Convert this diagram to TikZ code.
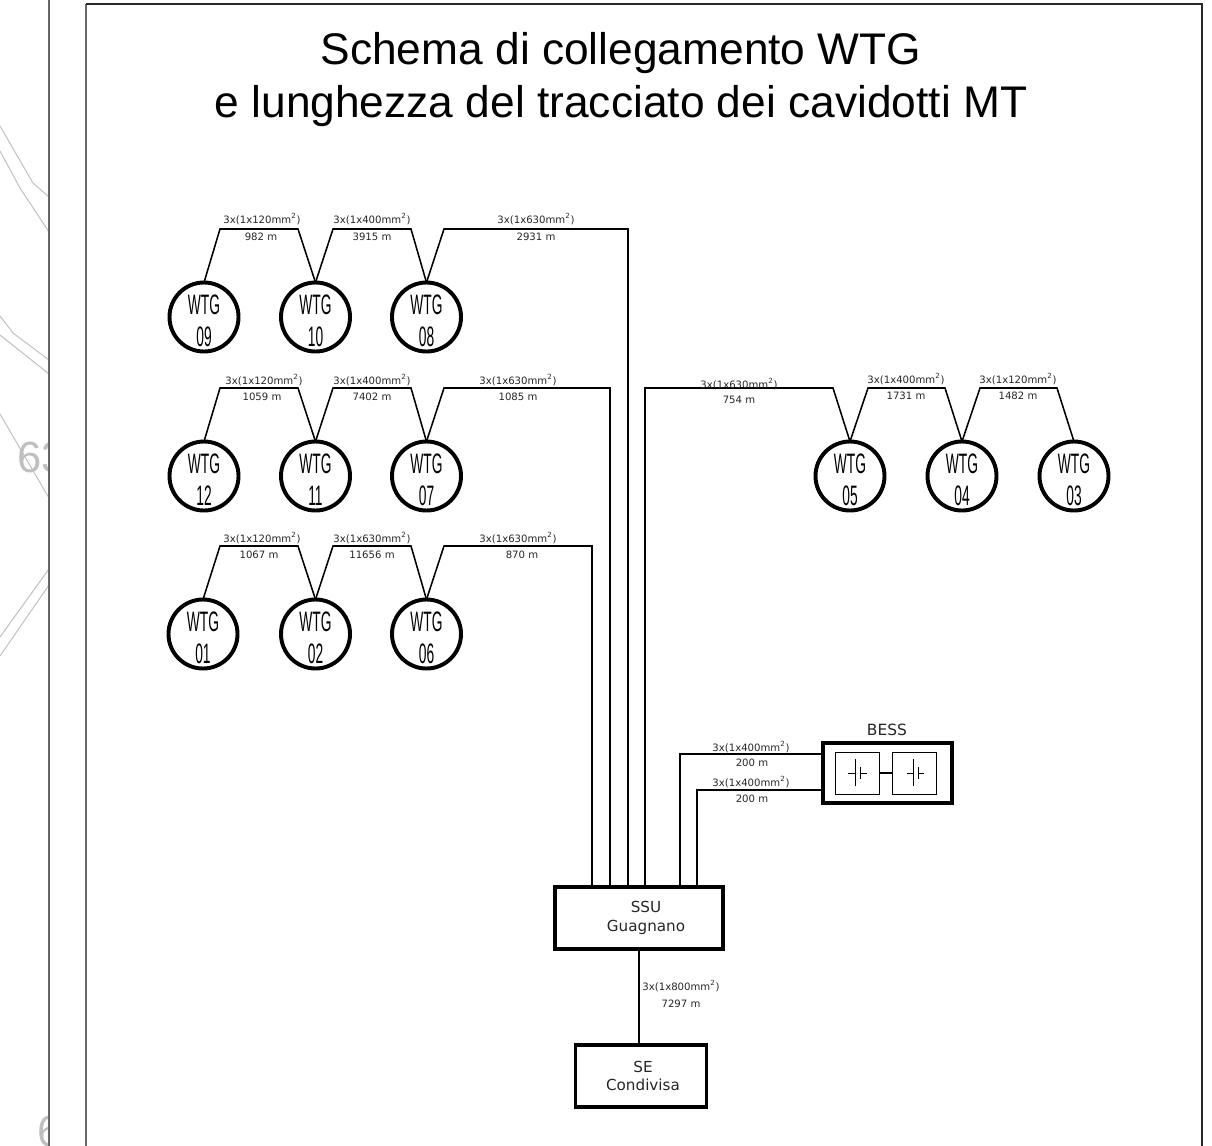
\documentclass[tikz,border=0pt]{standalone}
\usepackage{fontspec}
\usepackage{graphicx}
\setmainfont{Liberation Sans}
\newfontfamily\lblfont{DejaVu Sans}
\usetikzlibrary{positioning}
\newcommand{\wtgtext}[1]{\raisebox{-10pt}[0pt][0pt]{\scalebox{0.49}[1]{\begin{tabular}{@{}c@{}}WTG\\#1\end{tabular}}}}
\begin{document}
\begin{tikzpicture}[x=0.025cm, y=-0.025cm,
  wire/.style={black, line width=1.1pt, line join=miter},
  wtg/.style={circle, draw, line width=2.8pt, minimum size=1.725cm, inner sep=0pt, outer sep=0pt, font=\fontsize{20}{22.8}\selectfont},
  cable/.style={inner sep=0pt, text=black!85, font=\lblfont\fontsize{7.2}{9}\selectfont},
  station/.style={rectangle, draw, line width=2.2pt, inner sep=0pt, outer sep=0pt, align=center, text=black!85, font=\lblfont\fontsize{10.8}{13.4}\selectfont},
  cell/.style={rectangle, draw, line width=0.6pt, inner sep=0pt, outer sep=0pt, minimum width=1.1cm, minimum height=1.05cm},
  contour/.style={black!25, line width=0.7pt}]
  \useasboundingbox (0,0) rectangle (1212,1146);
  % Map behind the sheet
  \begin{scope}
    \clip (0,0) rectangle (49,1146);
    \draw[contour] (0,126) -- (33,183) -- (49,197);
    \draw[contour] (0,151) -- (20,188) -- (49,232);
    \draw[contour] (0,316) -- (13,333) -- (49,360);
    \draw[contour] (0,335) -- (49,374);
    \draw[contour] (0,414) -- (49,498);
    \draw[contour] (0,637) -- (49,569);
    \draw[contour] (0,656) -- (49,585);
    \node[black!25, anchor=west, inner sep=0pt, font=\fontsize{31}{31}\selectfont] (mapa) at (17,457) {63};
    \node[black!25, anchor=west, inner sep=0pt, font=\fontsize{31}{31}\selectfont] (mapb) at (37,1131) {6};
  \end{scope}
  % Sheet borders
  \draw[black!60, line width=1.2pt] (49,0) -- (49,1146);
  \draw[black!60, line width=1.2pt] (86,1146) -- (86,4);
  \draw[black!85, line width=0.8pt] (86,4) -- (1202,4) -- (1202,1146);
  % Title
  \node[inner sep=0pt, font=\fontsize{31.5}{36}\selectfont] (title1) at (621,53) {Schema di collegamento WTG};
  \node[inner sep=0pt, font=\fontsize{31.5}{36}\selectfont] (title2) at (621,106) {e lunghezza del tracciato dei cavidotti MT};
  % Turbines
  \node[wtg] (w09) at (204,317) {\wtgtext{09}};
  \node[wtg] (w10) at (315.5,317) {\wtgtext{10}};
  \node[wtg] (w08) at (426.5,317) {\wtgtext{08}};
  \node[wtg] (w12) at (204,476) {\wtgtext{12}};
  \node[wtg] (w11) at (315.5,476) {\wtgtext{11}};
  \node[wtg] (w07) at (426.5,476) {\wtgtext{07}};
  \node[wtg] (w01) at (203,634) {\wtgtext{01}};
  \node[wtg] (w02) at (315.5,634) {\wtgtext{02}};
  \node[wtg] (w06) at (426.5,634) {\wtgtext{06}};
  \node[wtg] (w05) at (850,476) {\wtgtext{05}};
  \node[wtg] (w04) at (962,476) {\wtgtext{04}};
  \node[wtg] (w03) at (1074,476) {\wtgtext{03}};
  % Stations
  \node[station, minimum width=4.2cm, minimum height=1.55cm] (ssu) at (639,918) {\hspace*{0.35cm}SSU\\\hspace*{0.35cm}Guagnano};
  \node[station, minimum width=3.28cm, minimum height=1.55cm] (se) at (641,1076) {\hspace*{0.1cm}SE\\\hspace*{0.1cm}Condivisa};
  \node[station, line width=3.2pt, minimum width=3.22cm, minimum height=1.5cm] (bess) at (887.5,773) {};
  \node[inner sep=0pt, text=black!85, font=\lblfont\fontsize{11}{12}\selectfont] (besstitle) at (887,730) {BESS};
  \node[cell] (cella) at (857,773) {};
  \node[cell] (cellb) at (914,773) {};
  \draw[wire] (cella) -- (cellb);
  % Battery symbols
  \draw[line width=0.6pt] (848,773) -- (855,773) (855,759) -- (855,786) (860,767) -- (860,779) (860,773) -- (867,773);
  \draw[line width=0.6pt] (907,773) -- (913,773) (913,759) -- (913,786) (918,767) -- (918,779) (918,773) -- (924,773);
  % Ends on the SSU
  \coordinate (ssua) at (592,886);
  \coordinate (ssub) at (610,886);
  \coordinate (ssuc) at (628,886);
  \coordinate (ssud) at (645,886);
  \coordinate (ssue) at (680,886);
  \coordinate (ssuf) at (697,886);
  \coordinate (bessa) at (821,754);
  \coordinate (bessb) at (821,790);
  % Cables
  \draw[wire] (w09.north) -- (220,229) -- (298,229) -- (w10.north);
  \draw[wire] (w10.north) -- (333,229) -- (411,229) -- (w08.north);
  \draw[wire] (w08.north) -- (444,229) -| (ssuc);
  \draw[wire] (w12.north) -- (220,388) -- (298,388) -- (w11.north);
  \draw[wire] (w11.north) -- (333,388) -- (411,388) -- (w07.north);
  \draw[wire] (w07.north) -- (444,388) -| (ssub);
  \draw[wire] (w01.north) -- (220,546) -- (298,546) -- (w02.north);
  \draw[wire] (w02.north) -- (333,546) -- (411,546) -- (w06.north);
  \draw[wire] (w06.north) -- (444,546) -| (ssua);
  \draw[wire] (ssud) |- (833,388) -- (w05.north);
  \draw[wire] (w05.north) -- (868,388) -- (945,388) -- (w04.north);
  \draw[wire] (w04.north) -- (980,388) -- (1057,388) -- (w03.north);
  \draw[wire] (ssue) |- (bessa);
  \draw[wire] (ssuf) |- (bessb);
  \draw[wire] (ssu.south) -- (ssu.south |- se.north);
  % Cable labels
  \node[cable] (la1) at (262,219) {3x(1x120mm\textsuperscript{2})};
  \node[cable] (la2) at (261,237) {982 m};
  \node[cable] (lb1) at (372,219) {3x(1x400mm\textsuperscript{2})};
  \node[cable] (lb2) at (372,237) {3915 m};
  \node[cable] (lc1) at (536,219) {3x(1x630mm\textsuperscript{2})};
  \node[cable] (lc2) at (536,237) {2931 m};
  \node[cable] (ld1) at (264,380) {3x(1x120mm\textsuperscript{2})};
  \node[cable] (ld2) at (262,397) {1059 m};
  \node[cable] (le1) at (372,380) {3x(1x400mm\textsuperscript{2})};
  \node[cable] (le2) at (372,397) {7402 m};
  \node[cable] (lf1) at (518,380) {3x(1x630mm\textsuperscript{2})};
  \node[cable] (lf2) at (518,397) {1085 m};
  \node[cable] (lg1) at (262,538) {3x(1x120mm\textsuperscript{2})};
  \node[cable] (lg2) at (259,555) {1067 m};
  \node[cable] (lh1) at (372,538) {3x(1x630mm\textsuperscript{2})};
  \node[cable] (lh2) at (372,555) {11656 m};
  \node[cable] (li1) at (518,538) {3x(1x630mm\textsuperscript{2})};
  \node[cable] (li2) at (522,555) {870 m};
  \node[cable] (lj1) at (739,384) {3x(1x630mm\textsuperscript{2})};
  \node[cable] (lj2) at (739,400) {754 m};
  \node[cable] (lk1) at (906,379) {3x(1x400mm\textsuperscript{2})};
  \node[cable] (lk2) at (906,396) {1731 m};
  \node[cable] (ll1) at (1018,379) {3x(1x120mm\textsuperscript{2})};
  \node[cable] (ll2) at (1018,396) {1482 m};
  \node[cable] (lm1) at (751,747) {3x(1x400mm\textsuperscript{2})};
  \node[cable] (lm2) at (752,763) {200 m};
  \node[cable] (ln1) at (751,782) {3x(1x400mm\textsuperscript{2})};
  \node[cable] (ln2) at (752,799) {200 m};
  \node[cable] (lo1) at (681,986) {3x(1x800mm\textsuperscript{2})};
  \node[cable] (lo2) at (681,1004) {7297 m};
\end{tikzpicture}
\end{document}
